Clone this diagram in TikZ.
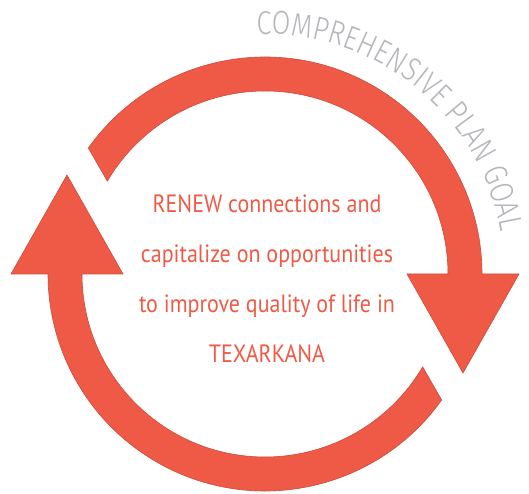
\documentclass[tikz,border=0pt]{standalone}
\usepackage{fontspec}
\setmainfont{PT Sans}[FakeStretch=0.88]
\newfontfamily\goalfont{Fira Sans Light}[FakeStretch=0.82]
\usetikzlibrary{decorations.text}
\definecolor{renewred}{HTML}{EF5A46}
\definecolor{goalgray}{HTML}{B4B6BA}
\begin{document}
\begin{tikzpicture}[x=1pt,y=1pt,
    ringarrow/.style={fill=renewred, draw=renewred!85!black, line width=0.6pt},
    goal/.style={font=\fontsize{25}{50}\selectfont, text=renewred, align=center, inner sep=0pt},
  ]
  \useasboundingbox (-265,-220) rectangle (264,274);
  \foreach \r in {0,180}
    \filldraw[ringarrow, rotate=\r] (144.5:217) arc[start angle=144.5, end angle=0, radius=217]
      -- (254,0) -- (198,-99) -- (142,0) -- (183,0)
      arc[start angle=0, end angle=149.5, radius=183] -- cycle;
  \node[goal] (renew) at (2,-5) {RENEW connections and\\ capitalize on opportunities\\ to improve quality of life in\\ TEXARKANA};
  \path[decorate, decoration={text along path, text align=fit to path, text color=goalgray,
      text={|\goalfont\fontsize{33}{33}\selectfont|COMPREHENSIVE PLAN GOAL}}]
    (92:240) arc[start angle=92, end angle=10, radius=240];
\end{tikzpicture}
\end{document}
